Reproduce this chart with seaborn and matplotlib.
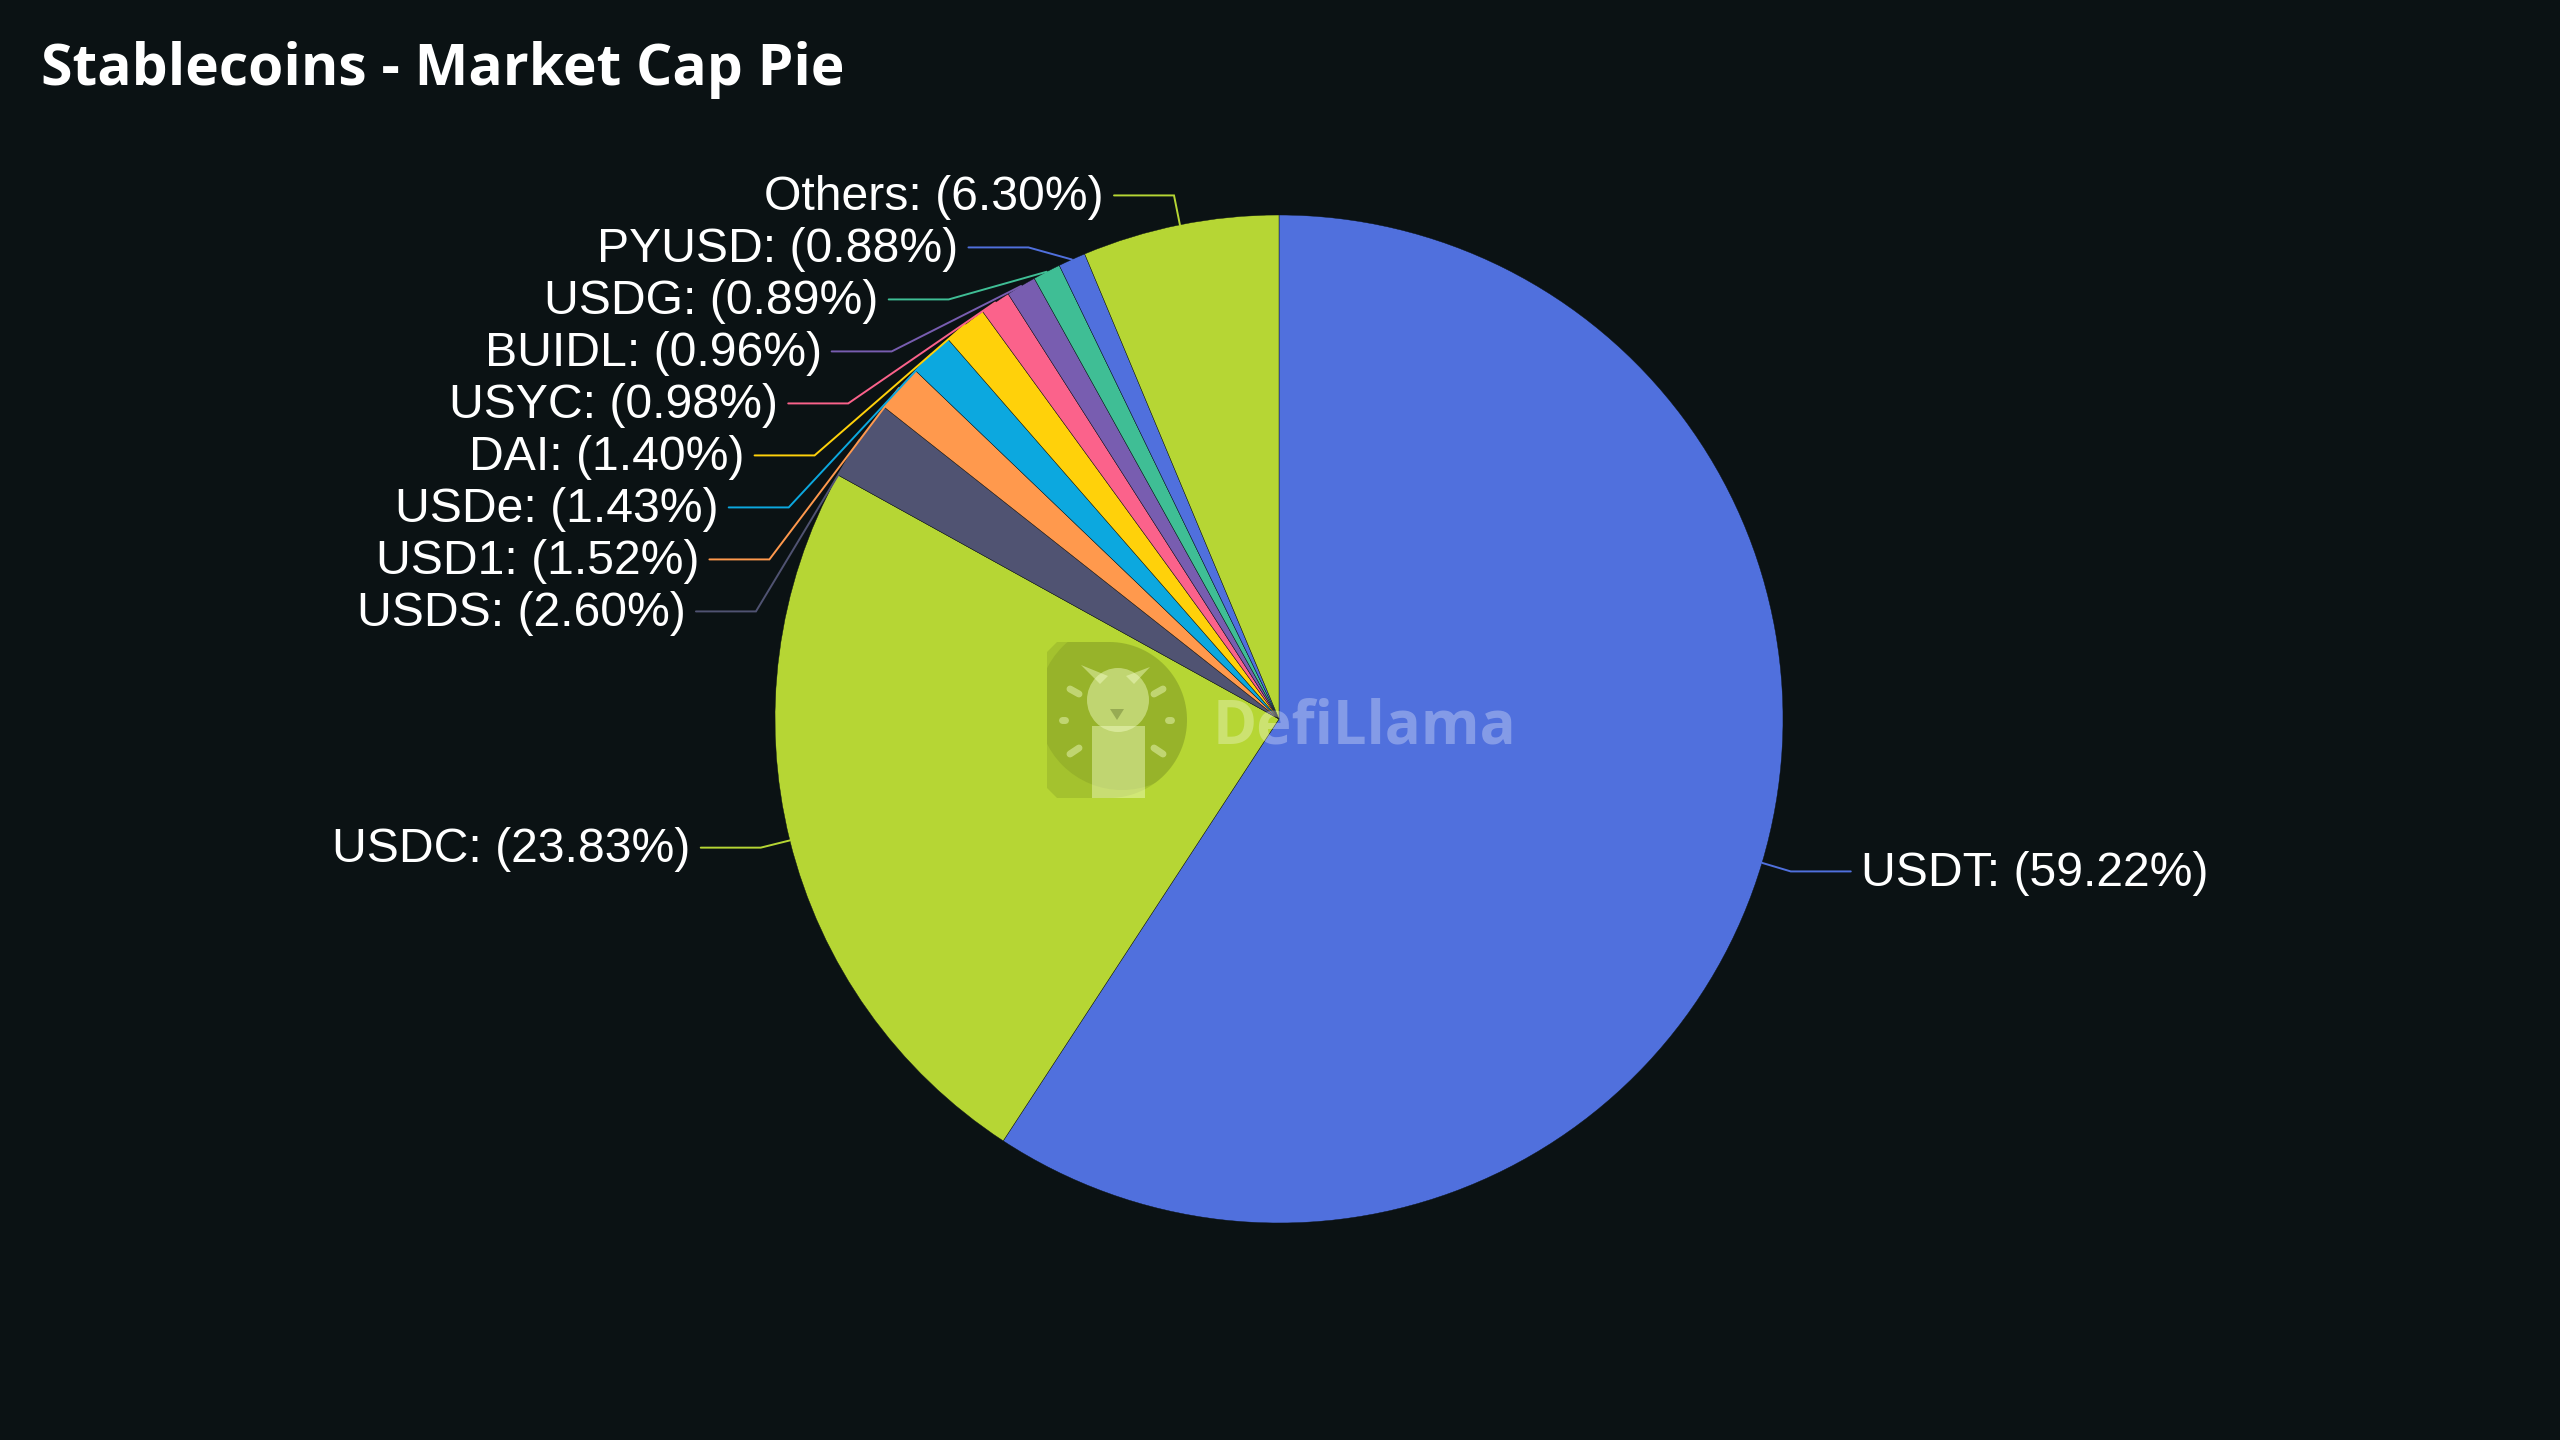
import numpy as np
import matplotlib
matplotlib.use("Agg")
import matplotlib.pyplot as plt
import seaborn as sns
from matplotlib.patches import Circle, Ellipse, Polygon, Rectangle

# --- DATA ---
COINS = ["USDT", "USDC", "USDS", "USD1", "USDe", "DAI", "USYC", "BUIDL", "USDG", "PYUSD", "Others"]
SHARES = [59.22, 23.83, 2.60, 1.52, 1.43, 1.40, 0.98, 0.96, 0.89, 0.88, 6.30]
PALETTE = ["#5070dd", "#b6d634", "#505372", "#ff994d", "#0ca8df",
           "#ffd10a", "#fb628b", "#785db0", "#3fbe95"]
TITLE = "Stablecoins - Market Cap Pie"
WATERMARK = "DefiLlama"

# --- LAYOUT (pixels, from top-left) ---
BG = "#0b1214"
W, H, DPI = 2560, 1440, 100
CX, CY, R = 1279, 719, 504
LEN1, LEN2, GAP, SPACING = 30 / R, 60 / R, 10 / R, 52 / R
TEXT_LIFT = 3 / R

sns.set_theme(style="dark")
plt.rcParams["font.family"] = ["Liberation Sans", "DejaVu Sans"]


def px(x, y):
    """pixel position -> data coords (1 unit = pie radius)"""
    return (x - CX) / R, (CY - y) / R


fig = plt.figure(figsize=(W / DPI, H / DPI), dpi=DPI, facecolor=BG)
ax = fig.add_axes([0, 0, 1, 1])
ax.set_facecolor(BG)

colors = sns.color_palette([PALETTE[i % len(PALETTE)] for i in range(len(SHARES))])
wedges, _ = ax.pie(SHARES, colors=colors, startangle=90, counterclock=False,
                   radius=1, center=(0, 0), frame=True,
                   wedgeprops=dict(edgecolor=BG, linewidth=0.3))

ax.set_aspect("auto")
ax.set_xlim(-CX / R, (W - CX) / R)
ax.set_ylim(-(H - CY) / R, CY / R)
ax.axis("off")

# --- label layout: knee on circle r+LEN1, push overlapping labels down ---
labels = []
for w, name, share, col in zip(wedges, COINS, SHARES, colors):
    ang = np.deg2rad((w.theta1 + w.theta2) / 2)
    ex, ey = np.cos(ang), np.sin(ang)
    labels.append(dict(name=name, share=share, col=col, ex=ex, ey=ey,
                       side=1 if ex >= 0 else -1, ky=ey * (1 + LEN1)))

for side in (-1, 1):
    group = sorted([l for l in labels if l["side"] == side], key=lambda l: -l["ky"])
    for prev, cur in zip(group, group[1:]):
        if prev["ky"] - cur["ky"] < SPACING:
            cur["ky"] = prev["ky"] - SPACING

rr = 1 + LEN1
for l in labels:
    s = l["side"]
    kx = s * np.sqrt(max(rr ** 2 - l["ky"] ** 2, 0))
    ax.plot([l["ex"], kx, kx + s * LEN2], [l["ey"], l["ky"], l["ky"]],
            color=l["col"], lw=1.4, solid_joinstyle="miter", zorder=3)
    ax.text(kx + s * (LEN2 + GAP), l["ky"] + TEXT_LIFT, f"{l['name']}: ({l['share']:.2f}%)",
            ha="left" if s > 0 else "right", va="center_baseline",
            fontsize=34.7, color="white", zorder=4)

# --- watermark: D-shaped logo with llama + wordmark ---
left, top, bottom = 1047, 642, 798
arc_cx, arc_r = 1109, 78
theta = np.linspace(np.pi / 2, -np.pi / 2, 60)
corner = 10
d_pts = ([px(left + corner, top), px(arc_cx, top)]
         + [px(arc_cx + arc_r * np.cos(t), 720 - arc_r * np.sin(t)) for t in theta]
         + [px(left + corner, bottom), px(left, bottom - corner), px(left, top + corner)])
d_shape = Polygon(d_pts, closed=True, facecolor="#3a4a10", alpha=0.14, linewidth=0, zorder=5)
ax.add_patch(d_shape)
dark = Circle(px(1122, 706), 84 / R, facecolor="#3a4a10", alpha=0.12, linewidth=0, zorder=5)
ax.add_patch(dark)
dark.set_clip_path(d_shape)

llama = "#f4ffc8"
la = 0.45
ax.add_patch(Rectangle(px(1092, 798), 53 / R, 72 / R, facecolor=llama, alpha=la,
                       linewidth=0, zorder=6))
ax.add_patch(Ellipse(px(1118, 700), 62 / R, 64 / R, facecolor=llama, alpha=la,
                     linewidth=0, zorder=6))
for ear in ([(1081, 665), (1100, 684), (1108, 676)], [(1150, 667), (1134, 684), (1126, 676)]):
    ax.add_patch(Polygon([px(*p) for p in ear], closed=True, facecolor=llama,
                         alpha=la, linewidth=0, zorder=6))
ax.add_patch(Polygon([px(1110, 709), px(1124, 709), px(1117, 720)], closed=True,
                     facecolor="#3a4a10", alpha=0.3, linewidth=0, zorder=7))
for (a, b), (c, d) in [((1070, 689), (1079, 694)), ((1154, 694), (1163, 689)),
                       ((1062, 720), (1065, 720)), ((1168, 720), (1171, 720)),
                       ((1070, 754), (1079, 748)), ((1154, 748), (1163, 754))]:
    ax.plot([px(a, b)[0], px(c, d)[0]], [px(a, b)[1], px(c, d)[1]], color=llama,
            alpha=la, lw=5, solid_capstyle="round", zorder=6)
ax.text(*px(1213, 744), WATERMARK, ha="left", va="baseline", fontsize=43,
        fontweight="bold", family=["Open Sans", "DejaVu Sans"], color="white",
        alpha=0.3, zorder=6)

# --- title ---
fig.text(41 / W, 1 - 85 / H, TITLE, ha="left", va="baseline", fontsize=41,
         fontweight="bold", family=["Open Sans", "DejaVu Sans"], color="white")

fig.savefig("out.png", dpi=DPI, facecolor=BG)
